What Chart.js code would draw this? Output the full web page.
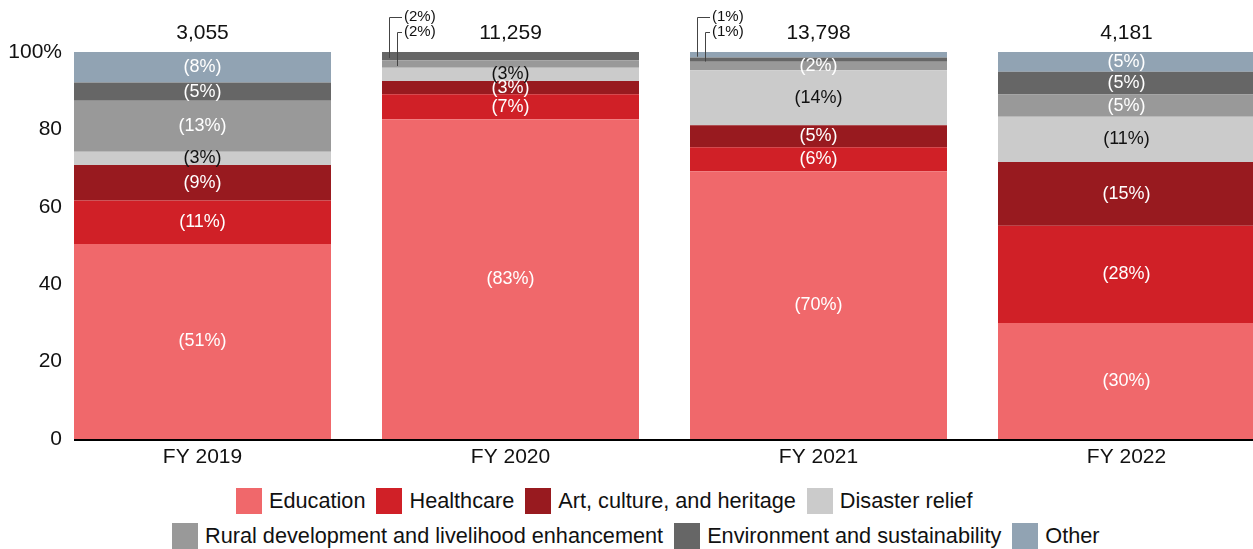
<!DOCTYPE html>
<html>
<head>
<meta charset="utf-8">
<script src="https://cdn.jsdelivr.net/npm/chart.js@4.4.1/dist/chart.umd.min.js"></script>
<style>
    html, body { margin: 0; padding: 0; background: #fff; overflow: hidden; }
    #wrap { position: relative; width: 1253px; height: 549px; overflow: hidden; }
    #chart { position: absolute; left: 0; top: 0; }
    .row { position: absolute; display: flex; align-items: center; height: 26px;
           font: 21.7px "Liberation Sans", Arial, sans-serif; color: #111; white-space: nowrap; }
    .item { display: flex; align-items: center; margin-right: 11px; }
    .sw { width: 26px; height: 26px; margin-right: 7px; }
</style>
</head>
<body>
<div id="wrap">
    <canvas id="chart" width="1282" height="480"></canvas>
    <div class="row" id="legendRow1" style="left:236px; top:488px;"></div>
    <div class="row" id="legendRow2" style="left:172px; top:523px;"></div>
</div>

<script>
// DATA
const years = ["FY 2019", "FY 2020", "FY 2021", "FY 2022"];
const totals = [3055, 11259, 13798, 4181];

// bar heights (share of total, %)
const education   = [50.4, 82.6, 69.2, 30.0];
const healthcare  = [11.2, 6.5, 6.2, 25.1];
const artCulture  = [9.2, 3.4, 5.7, 16.5];
const disaster    = [3.4, 3.4, 14.2, 11.7];
const rural       = [13.2, 2.0, 2.2, 5.7];
const environment = [4.7, 2.1, 1.1, 5.9];
const other       = [7.9, 0, 1.4, 5.1];

// printed labels (%)
const educationLbl   = [51, 83, 70, 30];
const healthcareLbl  = [11, 7, 6, 28];
const artCultureLbl  = [9, 3, 5, 15];
const disasterLbl    = [3, 3, 14, 11];
const ruralLbl       = [13, 2, 2, 5];
const environmentLbl = [5, 2, 1, 5];
const otherLbl       = [8, null, 1, 5];

const yTicks = [0, 20, 40, 60, 80, 100];

// [year index, dataset index, row] -> label drawn above the bar with a leader line
const callouts = [[1, 5, 0], [1, 4, 1], [2, 6, 0], [2, 5, 1]];

const FONT = '"Liberation Sans", Arial, sans-serif';

const datasets = [
    { label: "Education", data: education, lbl: educationLbl, backgroundColor: "#F0686B", textColor: "#fff" },
    { label: "Healthcare", data: healthcare, lbl: healthcareLbl, backgroundColor: "#D02027", textColor: "#fff" },
    { label: "Art, culture, and heritage", data: artCulture, lbl: artCultureLbl, backgroundColor: "#981A1F", textColor: "#fff" },
    { label: "Disaster relief", data: disaster, lbl: disasterLbl, backgroundColor: "#CBCBCB", textColor: "#111" },
    { label: "Rural development and livelihood enhancement", data: rural, lbl: ruralLbl, backgroundColor: "#999999", textColor: "#fff" },
    { label: "Environment and sustainability", data: environment, lbl: environmentLbl, backgroundColor: "#666666", textColor: "#fff" },
    { label: "Other", data: other, lbl: otherLbl, backgroundColor: "#91A3B3", textColor: "#fff" }
];

// LABELS, TOTALS, BASELINE
const overlay = {
    id: "overlay",
    afterDatasetsDraw(chart) {
        const ctx = chart.ctx;
        const area = chart.chartArea;
        const yScale = chart.scales.y;
        ctx.save();

        // segment labels
        chart.data.datasets.forEach((ds, i) => {
            chart.getDatasetMeta(i).data.forEach((bar, j) => {
                const v = ds.lbl[j];
                if (v == null) return;
                const midY = (bar.y + bar.base) / 2;
                const c = callouts.find(c => c[0] === j && c[1] === i);
                if (c) {
                    const left = bar.x - bar.width / 2;
                    const row = c[2];
                    const ty = area.top - 35 + row * 15;
                    const lx = Math.round(left + 7 + row * 7.5) + 0.5;
                    ctx.strokeStyle = "#444";
                    ctx.lineWidth = 1;
                    ctx.beginPath();
                    ctx.moveTo(lx, midY + 2);
                    ctx.lineTo(lx, Math.round(ty) + 0.5);
                    ctx.lineTo(left + 20, Math.round(ty) + 0.5);
                    ctx.stroke();
                    ctx.font = "15px " + FONT;
                    ctx.fillStyle = "#111";
                    ctx.textAlign = "left";
                    ctx.textBaseline = "middle";
                    ctx.fillText("(" + v + "%)", left + 22, ty);
                } else {
                    ctx.font = "18px " + FONT;
                    ctx.fillStyle = ds.textColor;
                    ctx.textAlign = "center";
                    ctx.textBaseline = "middle";
                    ctx.fillText("(" + v + "%)", bar.x, midY);
                }
            });
        });

        // totals
        const meta0 = chart.getDatasetMeta(0);
        ctx.font = "21px " + FONT;
        ctx.fillStyle = "#111";
        ctx.textAlign = "center";
        ctx.textBaseline = "middle";
        totals.forEach((t, j) => {
            ctx.fillText(t.toLocaleString("en-US"), meta0.data[j].x, yScale.getPixelForValue(100) - 19);
        });

        // baseline
        const first = meta0.data[0];
        ctx.strokeStyle = "#000";
        ctx.lineWidth = 2;
        ctx.beginPath();
        ctx.moveTo(first.x - first.width / 2, area.bottom + 1);
        ctx.lineTo(chart.width, area.bottom + 1);
        ctx.stroke();

        ctx.restore();
    }
};

const ctx = document.getElementById("chart").getContext("2d");

new Chart(ctx, {
    type: "bar",
    data: {
        labels: years,
        datasets: datasets.map(d => ({
            label: d.label,
            data: d.data,
            lbl: d.lbl,
            textColor: d.textColor,
            backgroundColor: d.backgroundColor,
            borderWidth: 0,
            barPercentage: 257 / 308,
            categoryPercentage: 1
        }))
    },
    options: {
        responsive: false,
        animation: false,
        layout: { padding: { top: 52, right: 1.5, left: 0, bottom: 0 } },
        plugins: {
            legend: { display: false },
            tooltip: { enabled: false }
        },
        scales: {
            x: {
                stacked: true,
                grid: { display: false, drawTicks: false },
                border: { display: false },
                ticks: { color: "#111", font: { family: FONT, size: 21 }, padding: 6 },
                afterFit(scale) { scale.height = 41; }
            },
            y: {
                stacked: true,
                min: 0,
                max: 100,
                afterBuildTicks(scale) { scale.ticks = yTicks.map(v => ({ value: v })); },
                grid: { display: false, drawTicks: false },
                border: { display: false },
                ticks: {
                    color: "#111",
                    font: { family: FONT, size: 21 },
                    mirror: true,
                    crossAlign: "far",
                    padding: -40.2,
                    callback: v => v === 100 ? "100%" : v
                },
                afterFit(scale) { scale.width = 48.5; }
            }
        }
    },
    plugins: [overlay]
});

// LEGEND
function legendItem(d) {
    return '<div class="item"><span class="sw" style="background:' + d.backgroundColor +
        '"></span><span>' + d.label + '</span></div>';
}
document.getElementById("legendRow1").innerHTML = datasets.slice(0, 4).map(legendItem).join("");
document.getElementById("legendRow2").innerHTML = datasets.slice(4).map(legendItem).join("");
</script>
</body>
</html>
